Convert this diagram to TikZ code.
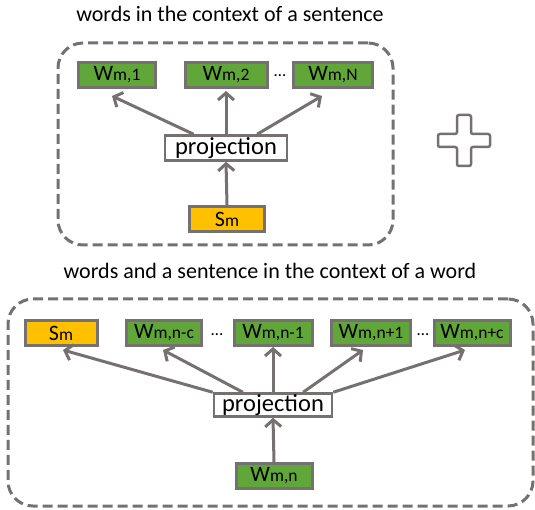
\documentclass[tikz,border=0pt]{standalone}
\usepackage{fontspec}
\setmainfont{Carlito}
\usetikzlibrary{arrows.meta,calc}
\definecolor{lgray}{RGB}{118,113,113}
\definecolor{wgreen}{RGB}{96,166,56}
\definecolor{sorange}{RGB}{255,192,0}
\newcommand\wlab[1]{{\fontsize{22}{26}\selectfont W}{\fontsize{17.5}{20}\selectfont #1}}
\newcommand\slab{{\fontsize{22}{26}\selectfont S}{\fontsize{17.5}{20}\selectfont m}}
\begin{document}
\begin{tikzpicture}[x=1pt,y=-1pt,
 box/.style={draw=lgray,line width=3pt,inner sep=0pt,minimum height=25pt},
 wbox/.style={box,fill=wgreen},
 sbox/.style={box,fill=sorange},
 pbox/.style={draw=lgray,line width=2.5pt,fill=white,inner sep=0pt,minimum height=25pt,font=\fontsize{24.5}{28}\selectfont},
 arr/.style={draw=lgray,line width=3pt,-{Straight Barb[length=7pt,width=16pt]}},
 frame/.style={draw=lgray,line width=3pt,dash pattern=on 10pt off 5pt,rounded corners=25pt,inner sep=0pt},
 title/.style={font=\fontsize{22}{26}\selectfont,anchor=base},
 dotsl/.style={font=\fontsize{17}{19}\selectfont,anchor=base},
 plusshape/.style={draw=lgray,line width=2.5pt,rounded corners=2pt}]
\useasboundingbox (0,0) rectangle (535,510);

% top part
\node[title] (t1) at (230,22) {words in the context of a sentence};
\node[frame,minimum width=335pt,minimum height=202pt] (f1) at (225.5,144) {};
\node[wbox,minimum width=77pt] (w1) at (117,75) {\wlab{m,1}};
\node[wbox,minimum width=82pt] (w2) at (226,75) {\wlab{m,2}};
\node[dotsl] (d1) at (280,77) {…};
\node[wbox,minimum width=79pt] (wN) at (333,75) {\wlab{m,N}};
\node[pbox,minimum width=122pt] (p1) at (226,148) {projection};
\node[sbox,minimum width=75pt] (s1) at (227,219) {\slab};

\draw[arr] ($(p1.north west)!0.24!(p1.north east)$) -- ($(w1.south)+(-5,7)$);
\draw[arr] (p1.north) -- ($(w2.south)+(0,2)$);
\draw[arr] ($(p1.north west)!0.75!(p1.north east)$) -- ($(wN.south)+(-11,7)$);
\draw[arr] (s1.north) -- (p1.south);

% plus sign
\draw[plusshape] (457,115) -- (471,115) -- (471,134) -- (490,134) -- (490,147) -- (471,147)
  -- (471,166) -- (457,166) -- (457,147) -- (438,147) -- (438,134) -- (457,134) -- cycle;

% bottom part
\node[title] (t2) at (270,279) {words and a sentence in the context of a word};
\node[frame,minimum width=525pt,minimum height=207pt] (f2) at (270.5,402.5) {};
\node[sbox,minimum width=72pt] (s2) at (61,333) {\slab};
\node[wbox,minimum width=75pt] (wnc) at (164,333) {\wlab{m,n-c}};
\node[dotsl] (d2) at (217,335) {…};
\node[wbox,minimum width=78pt] (wn1) at (273,333) {\wlab{m,n-1}};
\node[wbox,minimum width=79pt] (wp1) at (371,333) {\wlab{m,n+1}};
\node[dotsl] (d3) at (423,335) {…};
\node[wbox,minimum width=76pt] (wpc) at (472,333) {\wlab{m,n+c}};
\node[pbox,minimum width=118pt,minimum height=23pt] (p2) at (273,405) {projection};
\node[wbox,minimum width=76pt] (wn) at (274,476) {\wlab{m,n}};

\draw[arr] (p2.north west) -- ($(s2.south)+(2,3)$);
\draw[arr] ($(p2.north west)!0.25!(p2.north east)$) -- ($(wnc.south)+(-1,3)$);
\draw[arr] (p2.north) -- ($(wn1.south)+(0,0)$);
\draw[arr] ($(p2.north west)!0.75!(p2.north east)$) -- ($(wp1.south)+(-8,3)$);
\draw[arr] (p2.north east) -- ($(wpc.south)+(-7,3)$);
\draw[arr] (wn.north) -- (p2.south);
\end{tikzpicture}
\end{document}
